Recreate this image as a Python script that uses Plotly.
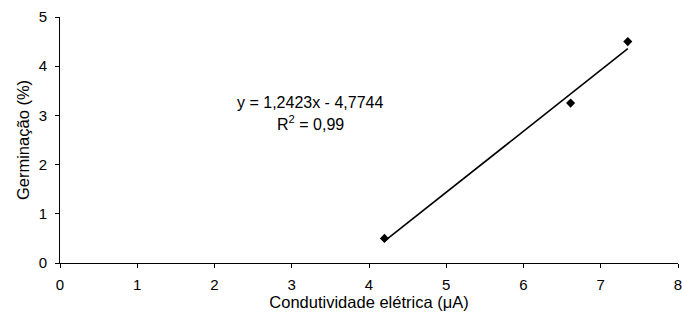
import plotly.graph_objects as go

# Data
cond_x = [4.2, 6.61, 7.35]
germ_y = [0.5, 3.25, 4.5]
slope = 1.2423
intercept = -4.7744
trend_x = [4.2, 7.35]
trend_y = [slope * v + intercept for v in trend_x]
x_ticks = [0, 1, 2, 3, 4, 5, 6, 7, 8]
y_ticks = [0, 1, 2, 3, 4, 5]
eq_text = "y = 1,2423x - 4,7744"
r2_text = "R<sup>2</sup> = 0,99"

FONT = "Liberation Sans, Arial, sans-serif"

fig = go.Figure()
fig.add_trace(go.Scatter(x=trend_x, y=trend_y, mode="lines",
                         line=dict(color="black", width=1.6), showlegend=False))
fig.add_trace(go.Scatter(x=cond_x, y=germ_y, mode="markers",
                         marker=dict(symbol="diamond", size=7, color="black"),
                         showlegend=False))

fig.add_annotation(x=0.405, y=0.654, xref="paper", yref="paper", text=eq_text,
                   showarrow=False, font=dict(family=FONT, size=16, color="black"))
fig.add_annotation(x=0.405, y=0.570, xref="paper", yref="paper", text=r2_text,
                   showarrow=False, font=dict(family=FONT, size=16, color="black"))

fig.update_layout(
    width=682, height=325,
    margin=dict(l=60, r=0, t=17, b=62),
    plot_bgcolor="white", paper_bgcolor="white",
    font=dict(family=FONT, size=15, color="black"),
)
fig.update_xaxes(range=[0, 8], tickvals=x_ticks, showgrid=False, zeroline=False,
                 showline=True, linecolor="black", linewidth=1,
                 ticks="outside", ticklen=4, tickcolor="black",
                 ticklabelstandoff=4, ticklabeloverflow="allow",
                 title=dict(text="Condutividade elétrica (μA)", font=dict(size=16.5), standoff=3))
fig.update_yaxes(range=[0, 5], tickvals=y_ticks, showgrid=False, zeroline=False,
                 showline=True, linecolor="black", linewidth=1,
                 ticks="outside", ticklen=4, tickcolor="black",
                 ticklabelstandoff=5,
                 title=dict(text="Germinação (%)", font=dict(size=16.5), standoff=4))

fig.write_html("out.html")
